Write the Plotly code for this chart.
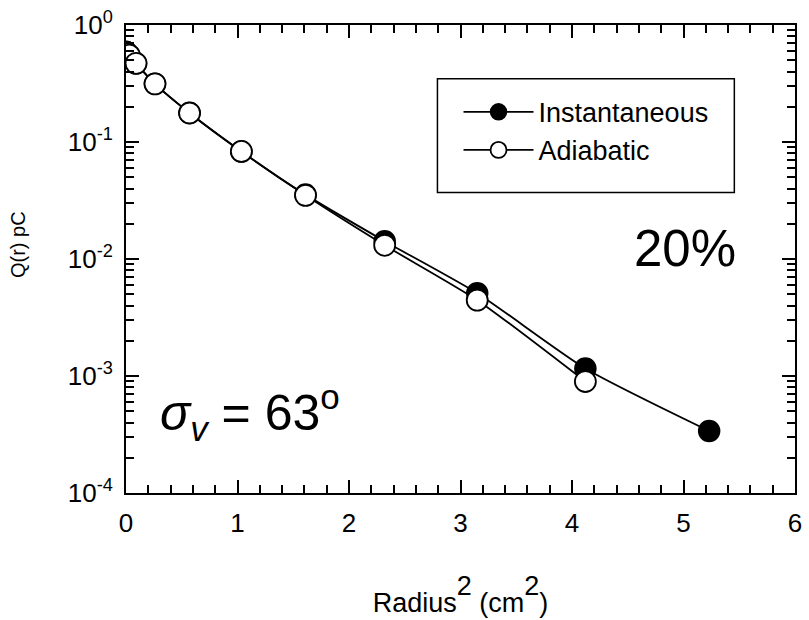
import plotly.graph_objects as go

# Data
r2_adiabatic = [0.0, 0.03, 0.09, 0.26, 0.57, 1.035, 1.61, 2.32, 3.15, 4.12]
q_adiabatic = [0.589, 0.552, 0.470, 0.314, 0.177, 0.083, 0.035, 0.0131, 0.00445, 0.000897]

r2_instant = [0.0, 0.03, 0.09, 0.26, 0.57, 1.035, 1.61, 2.32, 3.15, 4.12, 5.23]
q_instant = [0.589, 0.552, 0.470, 0.314, 0.177, 0.083, 0.0355, 0.0142, 0.0051, 0.00116, 0.000339]

y_tickvals = [1e-4, 1e-3, 1e-2, 1e-1, 1]
y_ticktext = ["10<sup>-4</sup>", "10<sup>-3</sup>", "10<sup>-2</sup>", "10<sup>-1</sup>", "10<sup>0</sup>"]
y_minor_vals = [m * d for d in [1e-4, 1e-3, 1e-2, 1e-1] for m in [2, 3, 4, 5, 6, 7, 8, 9]]
x_tickvals = [0, 1, 2, 3, 4, 5, 6]

FONT = "Liberation Sans, Arial, sans-serif"

# plot area geometry (pixels)
L, R, T, B = 126, 802, 19.5, 493
W, H = R - L, B - T


def px(xp):
    return (xp - L) / W


def py(yp):
    return (B - yp) / H


fig = go.Figure()
fig.add_trace(go.Scatter(
    x=r2_instant, y=q_instant, mode="lines+markers", name="Instantaneous",
    line=dict(color="black", width=1.8, shape="spline", smoothing=0.6),
    marker=dict(symbol="circle", size=21, color="black", line=dict(color="black", width=1.5)),
))
fig.add_trace(go.Scatter(
    x=r2_adiabatic, y=q_adiabatic, mode="lines+markers", name="Adiabatic",
    line=dict(color="black", width=1.8, shape="spline", smoothing=0.6),
    marker=dict(symbol="circle", size=21, color="white", line=dict(color="black", width=1.8)),
))

axis_common = dict(
    showline=True, linecolor="black", linewidth=2, mirror="allticks",
    ticks="inside", ticklen=13, tickwidth=2, tickcolor="black",
    showgrid=False, zeroline=False,
    tickfont=dict(family=FONT, size=26, color="black"),
)

SUP2 = '<span style="baseline-shift:17px">2</span>'
fig.update_xaxes(
    range=[0, 6], tickvals=x_tickvals,
    minor=dict(ticks="inside", ticklen=8, tickwidth=2, tickcolor="black", dtick=0.2, showgrid=False),
    title=dict(text=f"Radius{SUP2} (cm{SUP2})",
               font=dict(family=FONT, size=27, color="black"), standoff=56),
    ticklabelstandoff=6,
    **axis_common,
)
fig.update_yaxes(
    type="log", range=[-4, 0], tickvals=y_tickvals, ticktext=y_ticktext,
    minor=dict(ticks="inside", ticklen=8, tickwidth=2, tickcolor="black",
               tickmode="array", tickvals=y_minor_vals, showgrid=False),
    ticklabelstandoff=6,
    **axis_common,
)

# y-axis title (placed as in the reference, slightly above the centre)
fig.add_annotation(x=17, y=242, xref="paper", yref="paper", text="Q(r) pC", showarrow=False,
                   textangle=-90, font=dict(family=FONT, size=20, color="black"))
fig.layout.annotations[-1].update(x=(17 - L) / W, y=py(242), xanchor="center", yanchor="middle")

# legend box
fig.add_shape(type="rect", xref="paper", yref="paper",
              x0=px(440.7), x1=px(740.7), y0=py(189), y1=py(74),
              line=dict(color="black", width=1.5), fillcolor="rgba(0,0,0,0)")

fig.add_annotation(x=px(744), y=py(246), xref="paper", yref="paper", xanchor="right", yanchor="middle",
                   text="20%", showarrow=False,
                   font=dict(family=FONT, size=51, color="black"))
fig.add_annotation(x=px(158), y=py(412), xref="paper", yref="paper",
                   xanchor="left", yanchor="middle",
                   text="<i>σ<sub>v</sub></i> = 63<sup>o</sup>", showarrow=False,
                   font=dict(family=FONT, size=50, color="black"))

fig.update_layout(
    width=809, height=620,
    margin=dict(l=L, r=809 - R, t=T, b=620 - B),
    plot_bgcolor="white", paper_bgcolor="white",
    showlegend=True,
    legend=dict(x=px(462), y=py(83), xanchor="left", yanchor="top",
                bgcolor="rgba(0,0,0,0)", borderwidth=0,
                font=dict(family=FONT, size=27, color="black"),
                itemsizing="trace", itemwidth=70, tracegroupgap=0),
)

fig.write_html("out.html")
